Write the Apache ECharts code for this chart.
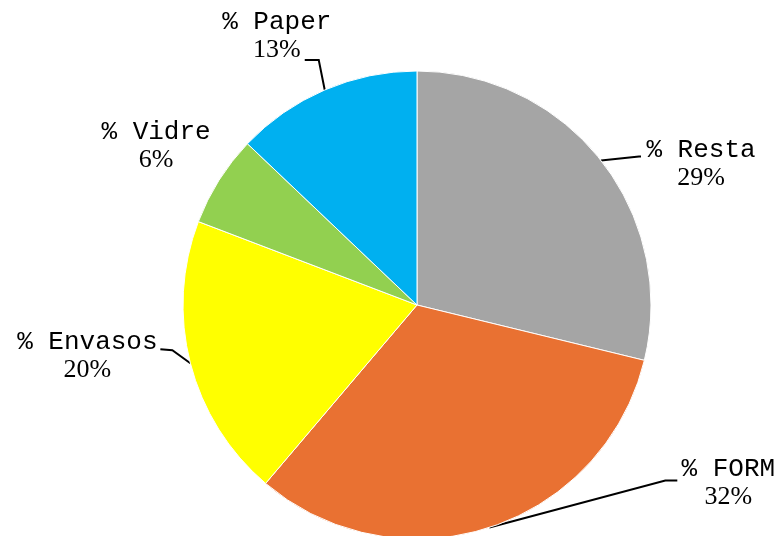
<!DOCTYPE html>
<html>
<head>
<meta charset="utf-8">
<script src="https://cdn.jsdelivr.net/npm/echarts@6/dist/echarts.min.js"></script>
<style>html,body{margin:0;padding:0;background:#fff}#c{width:779px;height:536px}</style>
</head>
<body>
<div id="c"></div>
<script>
// Data
const categories = ['% Resta', '% FORM', '% Envasos', '% Vidre', '% Paper'];
const values = [28.8, 32.4, 19.6, 6.3, 12.9];
const colors = ['#A5A5A5', '#E97132', '#FFFF00', '#92D050', '#00B0F0'];

// Label placement (offsets from each slice's edge anchor) – styling only
const labelOffsets = [[100, 4], [239, -44], [-103, -7], [-63, -34], [-48, -54]];
const guideBends = [
  [[38, -4], [40, -4]],
  [[176, -47], [188, -47]],
  [[-18, -13], [-30, -14]],
  null,
  [[-6, -30], [-20, -30]]
];

const chart = echarts.init(document.getElementById('c'), null, {renderer: 'canvas'});
chart.setOption({
  animation: false,
  backgroundColor: '#ffffff',
  series: [{
    type: 'pie',
    center: [417, 305],
    radius: 234,
    startAngle: 90,
    clockwise: true,
    avoidLabelOverlap: false,
    itemStyle: { borderColor: '#ffffff', borderWidth: 1 },
    label: {
      show: true,
      position: 'outside',
      align: 'center',
      formatter: p => '{n|' + p.name + '}\n{v|' + Math.round(p.value) + '%}',
      rich: {
        n: { fontFamily: 'Liberation Mono', fontSize: 26, color: '#000', lineHeight: 28, align: 'center' },
        v: { fontFamily: 'Liberation Serif', fontSize: 26, color: '#000', lineHeight: 28, align: 'center' }
      }
    },
    labelLine: { show: true, length: 10, length2: 10, lineStyle: { color: '#000', width: 2 } },
    labelLayout: function (params) {
      const i = params.dataIndex;
      const pts = params.labelLinePoints;
      const a = pts && pts[0] ? pts[0] : [0, 0];
      const o = labelOffsets[i];
      const res = { x: a[0] + o[0], y: a[1] + o[1], align: 'center', verticalAlign: 'middle' };
      const g = guideBends[i];
      if (g) {
        res.labelLinePoints = [[a[0], a[1]], [a[0] + g[0][0], a[1] + g[0][1]], [a[0] + g[1][0], a[1] + g[1][1]]];
      } else {
        res.labelLinePoints = [[a[0], a[1]], [a[0], a[1]], [a[0], a[1]]];
      }
      return res;
    },
    data: categories.map((c, i) => ({
      name: c,
      value: values[i],
      itemStyle: { color: colors[i] },
      labelLine: { show: guideBends[i] !== null }
    }))
  }]
});
</script>
</body>
</html>
